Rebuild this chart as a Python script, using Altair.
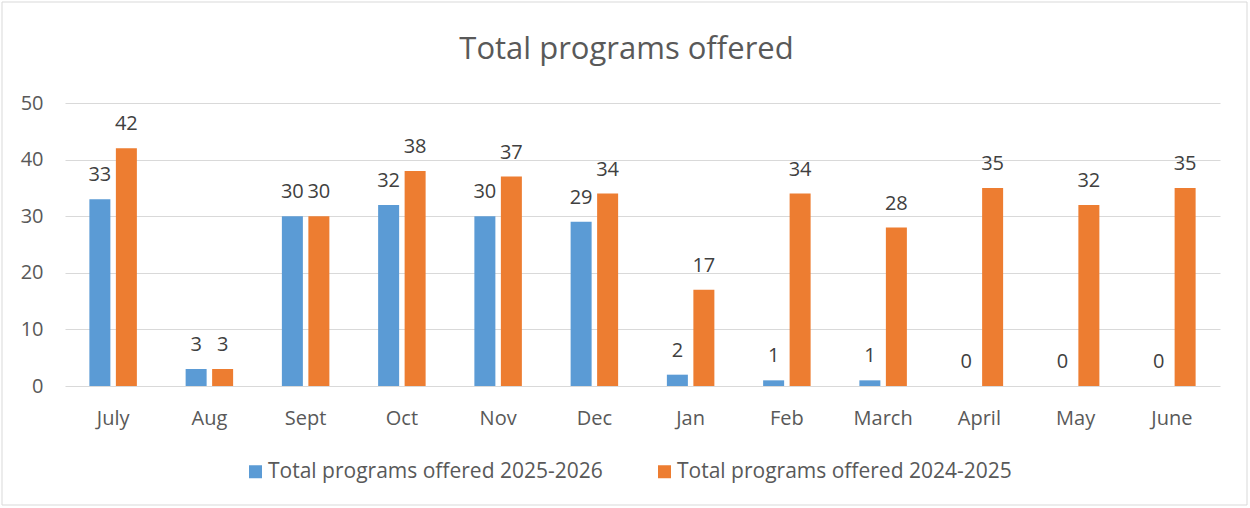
import altair as alt
import pandas as pd

months = ["July", "Aug", "Sept", "Oct", "Nov", "Dec", "Jan", "Feb", "March", "April", "May", "June"]
s1_name = "Total programs offered 2025-2026"
s2_name = "Total programs offered 2024-2025"
s1 = [33, 3, 30, 32, 30, 29, 2, 1, 1, 0, 0, 0]
s2 = [42, 3, 30, 38, 37, 34, 17, 34, 28, 35, 32, 35]
series = [s1_name, s2_name]
colors = ["#5B9BD5", "#ED7D31"]
y_ticks = [0, 10, 20, 30, 40, 50]

rows = []
for m, a, b in zip(months, s1, s2):
    rows.append({"month": m, "series": s1_name, "value": a})
    rows.append({"month": m, "series": s2_name, "value": b})
df = pd.DataFrame(rows)

FONT = "Open Sans"
GREY = "#595959"
FS = 20

x = alt.X("month:N", sort=months,
          scale=alt.Scale(paddingInner=0, paddingOuter=0),
          axis=alt.Axis(title=None, labelAngle=0, domain=False, ticks=False,
                        labelFontSize=FS, labelColor=GREY, labelFont=FONT,
                        labelPadding=22, grid=False))
xo = alt.XOffset("series:N", sort=series,
                 scale=alt.Scale(paddingInner=0.2075, paddingOuter=0.92))
y = alt.Y("value:Q", scale=alt.Scale(domain=[0, 50], nice=False),
          axis=alt.Axis(values=y_ticks, title=None, domain=False, ticks=False,
                        labelFontSize=FS, labelColor=GREY, labelFont=FONT,
                        labelPadding=22, gridColor="#d9d9d9", gridWidth=1))
color = alt.Color("series:N", sort=series,
                  scale=alt.Scale(domain=series, range=colors),
                  legend=alt.Legend(title=None, orient="none", direction="horizontal",
                                    legendX=180, legendY=358, symbolType="square",
                                    symbolSize=169, symbolStrokeWidth=0,
                                    labelFontSize=21, labelFont=FONT, labelColor=GREY,
                                    labelLimit=500, columnPadding=51, labelOffset=2))

bars = alt.Chart(df).mark_bar().encode(x=x, xOffset=xo, y=y, color=color)
labels = alt.Chart(df).mark_text(fontSize=FS, font=FONT, color="#404040",
                                 baseline="alphabetic", dy=-18).encode(
    x=alt.X("month:N", sort=months), xOffset=alt.XOffset("series:N", sort=series),
    y="value:Q", text="value:Q")

border = alt.Chart(alt.Data(values=[{"a": 1}])).mark_rect(
    fillOpacity=0, stroke="#d9d9d9", strokeWidth=1).encode(
    x=alt.value(-63), x2=alt.value(1182), y=alt.value(-101), y2=alt.value(402))

chart = alt.layer(bars, labels, border).properties(
    width=1155, height=283,
    title=alt.TitleParams("Total programs offered", fontSize=31, font=FONT, color=GREY,
                          fontWeight="normal", anchor="middle", dx=-16, frame="group",
                          baseline="alphabetic", offset=-88),
    autosize=alt.AutoSizeParams(type="none"),
    padding={"left": 65, "top": 103, "right": 30, "bottom": 122},
    background="white",
).configure_view(stroke=None)

chart.save("out.html", embed_options={"renderer": "svg", "actions": False})
